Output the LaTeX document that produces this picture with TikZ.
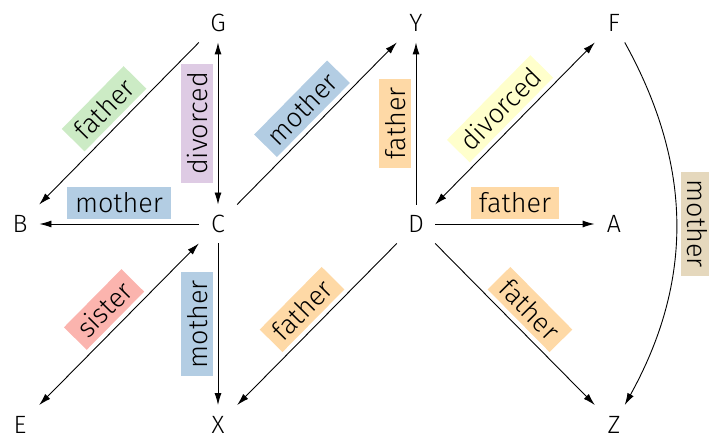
\documentclass[tikz,border=0pt]{standalone}
\usepackage{fontspec}
\setmainfont{Fira Sans Light}
\usetikzlibrary{arrows.meta}
% Pastel1 szinek
\definecolor{pred}{HTML}{FBB4AE}
\definecolor{pblue}{HTML}{B3CDE3}
\definecolor{pgreen}{HTML}{CCEBC5}
\definecolor{ppurple}{HTML}{DECBE4}
\definecolor{porange}{HTML}{FED9A6}
\definecolor{pyellow}{HTML}{FFFFCC}
\definecolor{ptan}{HTML}{E5D8BD}
\begin{document}
\begin{tikzpicture}[x=1pt,y=1pt,line width=0.9pt,
    person/.style={font=\fontsize{25}{30}\selectfont,minimum width=38pt,minimum height=38pt,inner sep=0pt},
    rel/.style={font=\fontsize{27}{32}\selectfont,fill=#1,inner xsep=8pt,inner ysep=6pt,text height=20pt,text depth=0pt,outer sep=5pt},
    >={Latex[length=12pt,width=7pt]}]

    \useasboundingbox (0,0) rectangle (709,434);

    \node[person] (G) at (218,411) {G};
    \node[person] (Y) at (416,411) {Y};
    \node[person] (F) at (614,411) {F};
    \node[person] (B) at (20,210) {B};
    \node[person] (C) at (218,210) {C};
    \node[person] (D) at (416,210) {D};
    \node[person] (A) at (614,210) {A};
    \node[person] (E) at (20,9.5) {E};
    \node[person] (X) at (218,9.5) {X};
    \node[person] (Z) at (614,9.5) {Z};

    \draw[->] (G) -- node[rel=pgreen,sloped,above] {father} (B);
    \draw[<->] (C) -- node[rel=ppurple,midway,rotate=90,anchor=south] {divorced} (G);
    \draw[->] (C) -- node[rel=pblue,sloped,above] {mother} (B);
    \draw[->] (C) -- node[rel=pblue,sloped,above] {mother} (Y);
    \draw[<->] (E) -- node[rel=pred,sloped,above] {sister} (C);
    \draw[<-] (X) -- node[rel=pblue,midway,rotate=90,anchor=south] {mother} (C);

    \draw[->] (D) -- node[rel=porange,midway,rotate=90,anchor=south] {father} (Y);
    \draw[<->] (D) -- node[rel=pyellow,sloped,above] {divorced} (F);
    \draw[->] (D) -- node[rel=porange,sloped,above] {father} (A);
    \draw[->] (D) -- node[rel=porange,sloped,above] {father} (X);
    \draw[->] (D) -- node[rel=porange,sloped,above] {father} (Z);
    \draw[->] (F) to[bend left=29] node[rel=ptan,midway,rotate=-90,anchor=south] {mother} (Z); % iv

\end{tikzpicture}
\end{document}
